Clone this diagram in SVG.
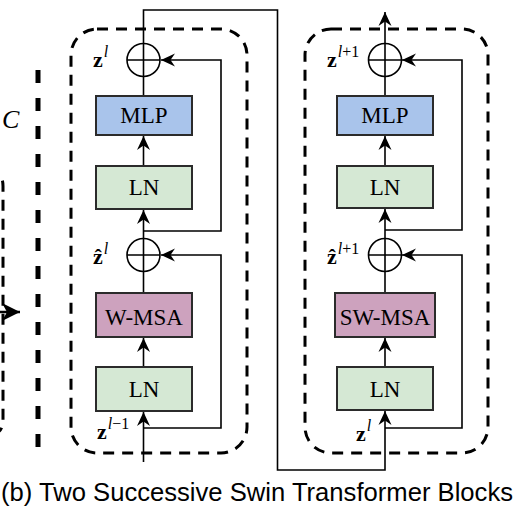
<svg xmlns="http://www.w3.org/2000/svg" width="521" height="516" viewBox="0 0 521 516">
<defs>
<marker id="arr" markerUnits="userSpaceOnUse" markerWidth="16" markerHeight="16" viewBox="-15 -8 16 16" refX="0" refY="0" orient="auto">
<path d="M0,0 L-14,-6.5 L-9.5,0 L-14,6.5 Z" fill="#000"/>
</marker>
<marker id="arrBig" markerUnits="userSpaceOnUse" markerWidth="22" markerHeight="22" viewBox="-20 -11 22 22" refX="0" refY="0" orient="auto">
<path d="M0,0 L-18,-9 L-13,0 L-18,9 Z" fill="#000"/>
</marker>
</defs>
<style>
.box{stroke:#2b2b2b;stroke-width:2}
.mlp{fill:#A9C4EB}
.ln{fill:#D5E8D4}
.msa{fill:#CDA2BE}
.lbl{font-family:"Liberation Serif","Times New Roman",serif;font-size:23px;fill:#000;text-anchor:middle}
.math{font-family:"Liberation Serif","Times New Roman",serif;fill:#000}
.zb{font-weight:bold;font-size:22px}
.sup{font-style:italic;font-size:16px}
.supn{font-size:16px}
.dash{fill:none;stroke:#000;stroke-width:3;stroke-dasharray:11 8}
.wire{fill:none;stroke:#000;stroke-width:1.6}
.circ{fill:#fff;stroke:#000;stroke-width:1.6}
</style>
<rect width="521" height="516" fill="#fff"/>

<!-- left partial elements -->
<g id="left-fragment">
<path d="M-12,171 Q3,171 3,186 L3,420 Q3,435 -12,435" class="dash"/>
<line x1="38" y1="70" x2="38" y2="460" stroke="#000" stroke-width="5" stroke-dasharray="13 15"/>
<line x1="-5" y1="312" x2="20" y2="312" stroke="#000" stroke-width="2.5" marker-end="url(#arrBig)"/>
<text x="2" y="128" class="math" font-style="italic" font-size="26">C</text>
</g>

<!-- block outlines -->
<g id="block1-frame"><rect x="71" y="29" width="176" height="424" rx="26" class="dash"/></g>
<g id="block2-frame"><rect x="305" y="29" width="183" height="424" rx="26" class="dash"/></g>

<!-- connectors -->
<g id="connectors">
<line x1="143.5" y1="462" x2="143.5" y2="412" class="wire" marker-end="url(#arr)"/>
<polyline points="143.5,428 221,428 221,255 161,255" class="wire" marker-end="url(#arr)"/>
<line x1="143.5" y1="367" x2="143.5" y2="338" class="wire" marker-end="url(#arr)"/>
<line x1="143.5" y1="293" x2="143.5" y2="271" class="wire"/>
<line x1="143.5" y1="239" x2="143.5" y2="210" class="wire" marker-end="url(#arr)"/>
<polyline points="143.5,231 221,231 221,60 161,60" class="wire" marker-end="url(#arr)"/>
<line x1="143.5" y1="166" x2="143.5" y2="136" class="wire" marker-end="url(#arr)"/>
<line x1="143.5" y1="96" x2="143.5" y2="76" class="wire"/>
<polyline points="143.5,44 143.5,10 277.5,10 277.5,470 385,470 385,411" class="wire" marker-end="url(#arr)"/>
<polyline points="385,428 462,428 462,255 402,255" class="wire" marker-end="url(#arr)"/>
<line x1="385" y1="367" x2="385" y2="338" class="wire" marker-end="url(#arr)"/>
<line x1="385" y1="293" x2="385" y2="271" class="wire"/>
<line x1="385" y1="239" x2="385" y2="209" class="wire" marker-end="url(#arr)"/>
<polyline points="385,230 462,230 462,60 402,60" class="wire" marker-end="url(#arr)"/>
<line x1="385" y1="166" x2="385" y2="136" class="wire" marker-end="url(#arr)"/>
<line x1="385" y1="96" x2="385" y2="76" class="wire"/>
<line x1="385" y1="44" x2="385" y2="12" class="wire" marker-end="url(#arr)"/>
</g>

<!-- block 1 nodes -->
<g id="b1-add1">
<circle cx="143.5" cy="60" r="16.5" class="circ"/>
<path d="M127,60 H160 M143.5,43.5 V76.5" class="wire"/>
<text x="93" y="67" class="math"><tspan class="zb">z</tspan><tspan class="sup" dx="1" dy="-10">l</tspan></text>
</g>
<g id="b1-mlp"><rect x="96" y="96" width="96" height="39" class="box mlp"/><text x="144" y="123" class="lbl">MLP</text></g>
<g id="b1-ln2"><rect x="96" y="166" width="96" height="43" class="box ln"/><text x="144" y="195" class="lbl">LN</text></g>
<g id="b1-add2">
<circle cx="143.5" cy="255" r="16.5" class="circ"/>
<path d="M127,255 H160 M143.5,238.5 V271.5" class="wire"/>
<text x="93" y="264" class="math"><tspan class="zb">ẑ</tspan><tspan class="sup" dx="1" dy="-10">l</tspan></text>
</g>
<g id="b1-wmsa"><rect x="96" y="293" width="96" height="44" class="box msa"/><text x="144" y="325" class="lbl">W-MSA</text></g>
<g id="b1-ln1"><rect x="96" y="367" width="96" height="44" class="box ln"/><text x="144" y="397" class="lbl">LN</text></g>
<g id="b1-in"><text x="97" y="439" class="math"><tspan class="zb">z</tspan><tspan class="sup" dx="1" dy="-10">l</tspan><tspan class="supn">−1</tspan></text></g>

<!-- block 2 nodes -->
<g id="b2-add1">
<circle cx="385" cy="60" r="16.5" class="circ"/>
<path d="M368.5,60 H401.5 M385,43.5 V76.5" class="wire"/>
<text x="327" y="67" class="math"><tspan class="zb">z</tspan><tspan class="sup" dx="1" dy="-10">l</tspan><tspan class="supn">+1</tspan></text>
</g>
<g id="b2-mlp"><rect x="337" y="96" width="96" height="39" class="box mlp"/><text x="385" y="123" class="lbl">MLP</text></g>
<g id="b2-ln2"><rect x="337" y="166" width="96" height="42" class="box ln"/><text x="385" y="195" class="lbl">LN</text></g>
<g id="b2-add2">
<circle cx="385" cy="255" r="16.5" class="circ"/>
<path d="M368.5,255 H401.5 M385,238.5 V271.5" class="wire"/>
<text x="327" y="264" class="math"><tspan class="zb">ẑ</tspan><tspan class="sup" dx="1" dy="-10">l</tspan><tspan class="supn">+1</tspan></text>
</g>
<g id="b2-swmsa"><rect x="335" y="293" width="100" height="44" class="box msa"/><text x="385" y="325" class="lbl">SW-MSA</text></g>
<g id="b2-ln1"><rect x="337" y="367" width="96" height="43" class="box ln"/><text x="385" y="397" class="lbl">LN</text></g>
<g id="b2-in"><text x="356" y="441" class="math"><tspan class="zb">z</tspan><tspan class="sup" dx="1" dy="-10">l</tspan></text></g>

<text x="1" y="501" font-family="'Liberation Sans',Arial,sans-serif" font-size="25" fill="#000" textLength="512" lengthAdjust="spacingAndGlyphs">(b) Two Successive Swin Transformer Blocks</text>
</svg>
